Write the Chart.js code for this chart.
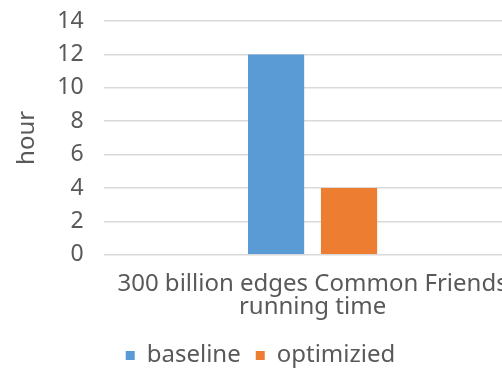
<!DOCTYPE html>
<html>
<head>
<meta charset="utf-8">
<script src="https://cdn.jsdelivr.net/npm/chart.js@4/dist/chart.umd.min.js"></script>
<style>
  html, body { margin: 0; padding: 0; background: #fff; overflow: hidden; }
  #wrap { width: 533px; height: 368px; }
</style>
</head>
<body>
<div id="wrap"><canvas id="chart" width="533" height="368"></canvas></div>
<script>
const categories = [["300 billion edges Common Friends", "running time"]];
const baseline = [12];
const optimized = [4];
const seriesNames = ["baseline", "optimizied"];
const yTicks = [0, 2, 4, 6, 8, 10, 12, 14];

const textColor = '#595959';
const fontFamily = '"Noto Sans", "DejaVu Sans", sans-serif';

const ctx = document.getElementById('chart').getContext('2d');
new Chart(ctx, {
    type: 'bar',
    data: {
        labels: categories,
        datasets: [
            { label: seriesNames[0], data: baseline, backgroundColor: '#5B9BD5' },
            { label: seriesNames[1], data: optimized, backgroundColor: '#ED7D31' }
        ]
    },
    options: {
        responsive: false,
        animation: false,
        categoryPercentage: 0.35,
        barPercentage: 0.77,
        // legend sits a little lower than chart.js wants, hence the negative bottom
        layout: { padding: { top: 0, right: 12, left: 0, bottom: -9.4 } },
        plugins: {
            legend: {
                position: 'bottom',
                labels: {
                    color: textColor,
                    font: { family: fontFamily, size: 24 },
                    boxWidth: 9,
                    boxHeight: 9,
                    padding: 15
                }
            },
            tooltip: { enabled: false }
        },
        scales: {
            x: {
                grid: { display: false },
                border: { display: false },
                ticks: {
                    color: textColor,
                    font: { family: fontFamily, size: 24, lineHeight: 0.95 },
                    maxRotation: 0,
                    autoSkip: false,
                    padding: 10
                }
            },
            y: {
                min: 0,
                max: 14,
                afterBuildTicks: axis => { axis.ticks = yTicks.map(v => ({ value: v })); },
                grid: { color: '#D9D9D9', lineWidth: 1.5, drawTicks: true, tickLength: 11, tickColor: 'rgba(0,0,0,0)' },
                border: { display: false },
                ticks: {
                    color: textColor,
                    font: { family: fontFamily, size: 23, lineHeight: 1.0 },
                    autoSkip: false,
                    padding: 9.5
                },
                title: {
                    display: true,
                    text: 'hour',
                    color: textColor,
                    font: { family: fontFamily, size: 24 },
                    padding: { top: 13, bottom: 6 }
                }
            }
        }
    }
});
</script>
</body>
</html>
